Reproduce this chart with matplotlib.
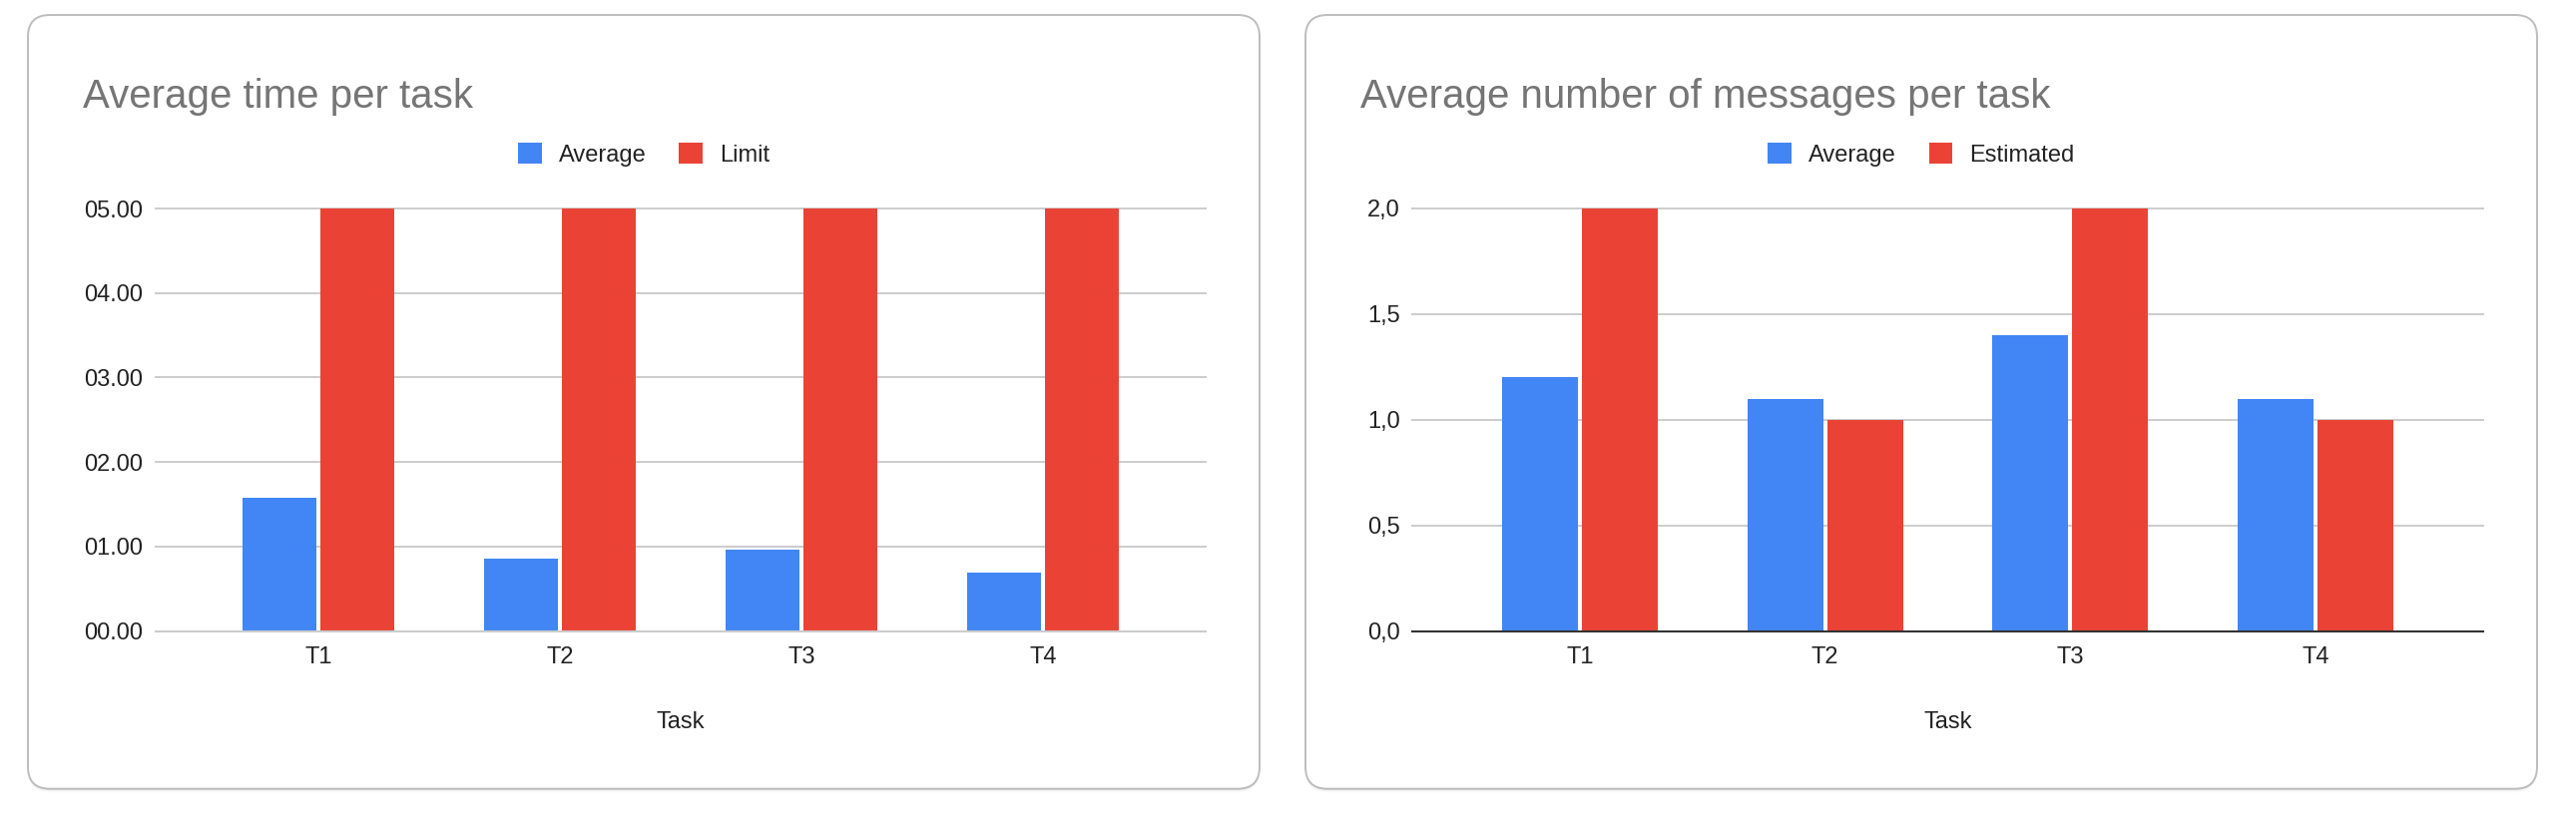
import matplotlib
matplotlib.use("Agg")
import matplotlib.pyplot as plt
import numpy as np
from matplotlib.patches import FancyBboxPatch
from matplotlib.transforms import IdentityTransform

W, H = 2581, 816
DPI = 100

# data
tasks = ["T1", "T2", "T3", "T4"]

time_avg = [1.58, 0.86, 0.97, 0.69]
time_limit = [5, 5, 5, 5]
time_ticks = [0, 1, 2, 3, 4, 5]
time_ticklabels = ["00.00", "01.00", "02.00", "03.00", "04.00", "05.00"]

msg_avg = [1.2, 1.1, 1.4, 1.1]
msg_est = [2, 1, 2, 1]
msg_ticks = [0, 0.5, 1, 1.5, 2]
msg_ticklabels = ["0,0", "0,5", "1,0", "1,5", "2,0"]

BLUE = "#4285f4"
RED = "#ea4335"
GRID = "#cccccc"
TXT = "#222222"

plt.rcParams["font.family"] = ["Liberation Sans", "DejaVu Sans"]

fig = plt.figure(figsize=(W / DPI, H / DPI), dpi=DPI)
fig.patch.set_facecolor("white")


def frac_box(x0, y_top, x1, y_bot):
    # pixel box measured from top-left -> figure fractions
    return [x0 / W, 1 - y_bot / H, (x1 - x0) / W, (y_bot - y_top) / H]


def card(x0, y_top, x1, y_bot):
    # soft shadow then the white rounded card
    for i, a in enumerate([0.045, 0.03, 0.02, 0.012]):
        sh = FancyBboxPatch((x0, H - y_bot - 1 - i), x1 - x0, y_bot - y_top,
                            boxstyle="round,pad=0,rounding_size=22",
                            transform=IdentityTransform(), fc="black", ec="none",
                            alpha=a, zorder=-3)
        fig.add_artist(sh)
    c = FancyBboxPatch((x0, H - y_bot), x1 - x0, y_bot - y_top,
                       boxstyle="round,pad=0,rounding_size=22",
                       transform=IdentityTransform(), fc="white", ec="#bdbdbd",
                       lw=1.4, zorder=-2)
    fig.add_artist(c)


def chart(card_x, plot_x, title, names, avg, other, ticks, ticklabels, ymax,
          bar_w, bar_off, xpad, base_color):
    cx0, cx1 = card_x
    px0, px1 = plot_x
    card(cx0, 15, cx1, 790.7)

    ax = fig.add_axes(frac_box(px0, 209, px1, 632.7))
    ax.set_facecolor("none")
    x = np.arange(len(tasks))
    b1 = ax.bar(x - bar_off, avg, bar_w, color=BLUE, zorder=2, label=names[0])
    b2 = ax.bar(x + bar_off, other, bar_w, color=RED, zorder=2, label=names[1])
    for t in ticks[1:]:
        ax.axhline(t, color=GRID, lw=1.4, zorder=0.5, clip_on=False)
    ax.axhline(0, color=base_color, lw=1.5, zorder=3, clip_on=False)

    ax.set_ylim(0, ymax)
    ax.set_xlim(-xpad, len(tasks) - 1 + xpad)
    ax.set_yticks(ticks, ticklabels)
    ax.set_xticks(x, tasks)
    ax.tick_params(axis="y", length=0, pad=9, labelsize=17, labelcolor=TXT)
    ax.tick_params(axis="x", length=0, pad=11, labelsize=17, labelcolor=TXT)
    for s in ax.spines.values():
        s.set_visible(False)

    fig.text((cx0 + 55) / W, 1 - 108 / H, title, fontsize=29, color="#757575",
             ha="left", va="baseline")
    fig.text((px0 + px1) / 2 / W, 1 - 730 / H, "Task", fontsize=17, color=TXT,
             ha="center", va="baseline")
    fig.legend([b1, b2], names, loc="center",
               bbox_to_anchor=((cx0 + cx1) / 2 / W, 1 - 155 / H), ncol=2,
               frameon=False, fontsize=17, handlelength=1.0, handleheight=1.0,
               handletextpad=0.72, columnspacing=1.4, labelcolor=TXT)
    return ax


chart((28, 1262), (156, 1208), "Average time per task", ["Average", "Limit"],
      time_avg, time_limit, time_ticks, time_ticklabels, 5,
      0.306, 0.161, 0.674, GRID)

chart((1308, 2542), (1415, 2488), "Average number of messages per task",
      ["Average", "Estimated"], msg_avg, msg_est, msg_ticks, msg_ticklabels, 2,
      0.309, 0.1626, 0.683, "#333333")

fig.savefig("out.png", dpi=DPI, facecolor="white")
